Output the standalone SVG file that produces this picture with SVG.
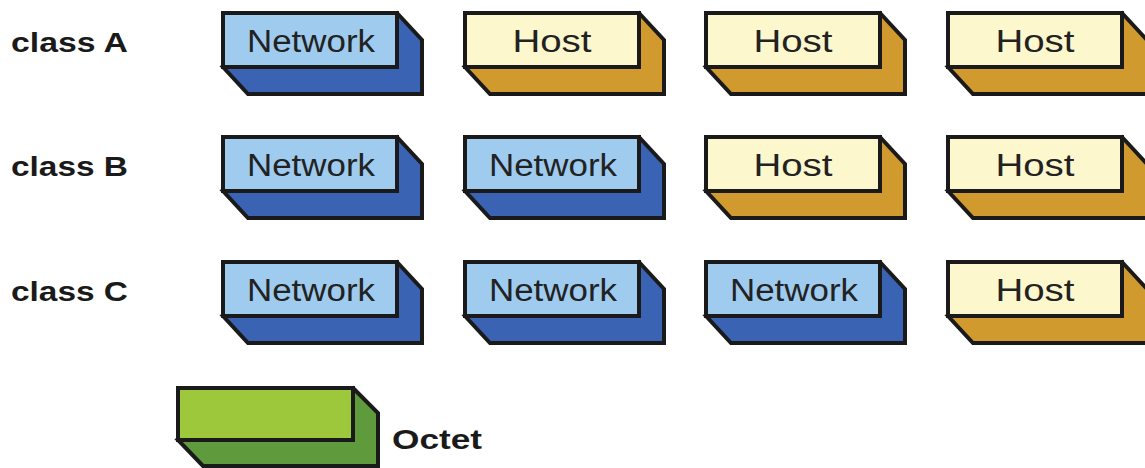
<svg xmlns="http://www.w3.org/2000/svg" width="1145" height="468" viewBox="0 0 1145 468">
<style>
.edge{stroke:#1a1a1a;stroke-width:4;stroke-linejoin:miter}
.nf{fill:#9ecbee}.nb{fill:#3b63b3}
.hf{fill:#fdf7cd}.hb{fill:#d09a2f}
.of{fill:#9dc83c}.ob{fill:#5f9a3c}
.lbl{font-family:"Liberation Sans",Arial,sans-serif;font-size:31px;fill:#222;text-anchor:middle}
.cls{font-family:"Liberation Sans",Arial,sans-serif;font-size:28px;font-weight:bold;fill:#1a1a1a}
</style>
<defs>
<polygon id="back" points="174,0 199,27 199,81 25,81 0,54"/>
<rect id="front" x="0" y="0" width="174" height="54"/>
</defs>
<g id="labels">
<text class="cls" x="11" y="52" textLength="117" lengthAdjust="spacingAndGlyphs">class A</text>
<text class="cls" x="11" y="176" textLength="117" lengthAdjust="spacingAndGlyphs">class B</text>
<text class="cls" x="11" y="301" textLength="117" lengthAdjust="spacingAndGlyphs">class C</text>
</g>
<g id="a1" transform="translate(223,13)"><use href="#back" class="edge nb"/><use href="#front" class="edge nf"/><text class="lbl" x="88" y="39" textLength="128" lengthAdjust="spacingAndGlyphs">Network</text></g>
<g id="a2" transform="translate(465,13)"><use href="#back" class="edge hb"/><use href="#front" class="edge hf"/><text class="lbl" x="87" y="39" textLength="79" lengthAdjust="spacingAndGlyphs">Host</text></g>
<g id="a3" transform="translate(706,13)"><use href="#back" class="edge hb"/><use href="#front" class="edge hf"/><text class="lbl" x="87" y="39" textLength="79" lengthAdjust="spacingAndGlyphs">Host</text></g>
<g id="a4" transform="translate(948,13)"><use href="#back" class="edge hb"/><use href="#front" class="edge hf"/><text class="lbl" x="87" y="39" textLength="79" lengthAdjust="spacingAndGlyphs">Host</text></g>
<g id="b1" transform="translate(223,137)"><use href="#back" class="edge nb"/><use href="#front" class="edge nf"/><text class="lbl" x="88" y="39" textLength="128" lengthAdjust="spacingAndGlyphs">Network</text></g>
<g id="b2" transform="translate(465,137)"><use href="#back" class="edge nb"/><use href="#front" class="edge nf"/><text class="lbl" x="88" y="39" textLength="128" lengthAdjust="spacingAndGlyphs">Network</text></g>
<g id="b3" transform="translate(706,137)"><use href="#back" class="edge hb"/><use href="#front" class="edge hf"/><text class="lbl" x="87" y="39" textLength="79" lengthAdjust="spacingAndGlyphs">Host</text></g>
<g id="b4" transform="translate(948,137)"><use href="#back" class="edge hb"/><use href="#front" class="edge hf"/><text class="lbl" x="87" y="39" textLength="79" lengthAdjust="spacingAndGlyphs">Host</text></g>
<g id="c1" transform="translate(223,262)"><use href="#back" class="edge nb"/><use href="#front" class="edge nf"/><text class="lbl" x="88" y="39" textLength="128" lengthAdjust="spacingAndGlyphs">Network</text></g>
<g id="c2" transform="translate(465,262)"><use href="#back" class="edge nb"/><use href="#front" class="edge nf"/><text class="lbl" x="88" y="39" textLength="128" lengthAdjust="spacingAndGlyphs">Network</text></g>
<g id="c3" transform="translate(706,262)"><use href="#back" class="edge nb"/><use href="#front" class="edge nf"/><text class="lbl" x="88" y="39" textLength="128" lengthAdjust="spacingAndGlyphs">Network</text></g>
<g id="c4" transform="translate(948,262)"><use href="#back" class="edge hb"/><use href="#front" class="edge hf"/><text class="lbl" x="87" y="39" textLength="79" lengthAdjust="spacingAndGlyphs">Host</text></g>
<g id="octet" transform="translate(178,388)"><polygon points="175,0 200,25 200,78 25,78 0,52" class="edge ob"/><rect x="0" y="0" width="175" height="52" class="edge of"/></g>
<g id="octet-label"><text class="cls" x="392" y="449" textLength="90" lengthAdjust="spacingAndGlyphs">Octet</text></g>
<g id="connectors"/>
</svg>
